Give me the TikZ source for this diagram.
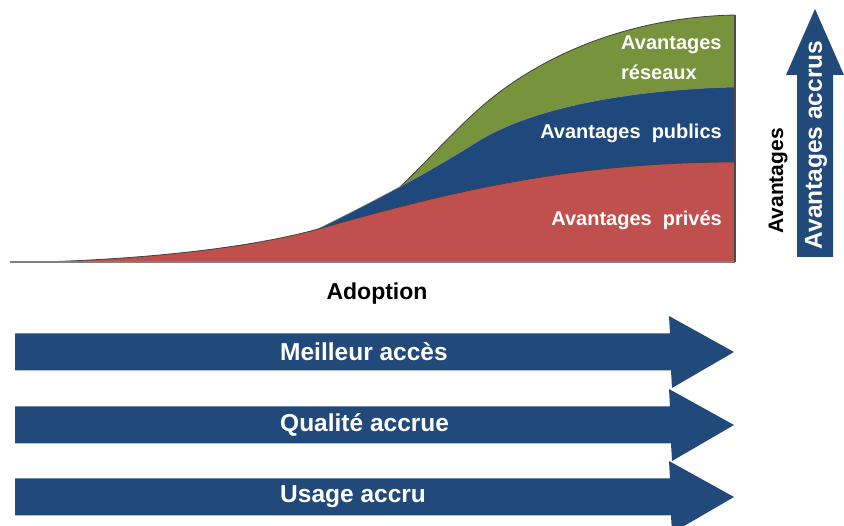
\documentclass[tikz,border=0pt]{standalone}
\usepackage{fontspec}
\setmainfont{Liberation Sans}
\definecolor{privred}{HTML}{C0504D}
\definecolor{pubblue}{HTML}{1F497D}
\definecolor{netgreen}{HTML}{77933C}
\definecolor{arrowblue}{HTML}{214A7B}
\begin{document}
\begin{tikzpicture}[x=1pt,y=-1pt,
  arealabel/.style={font=\bfseries\fontsize{20}{30}\selectfont, text=white, inner sep=0pt},
  axislabel/.style={font=\bfseries\fontsize{23}{27}\selectfont, text=black, inner sep=0pt},
  arrowlabel/.style={font=\bfseries\fontsize{24.5}{28}\selectfont, text=white, inner sep=0pt},
  edgeline/.style={draw=black!75, line width=0.8pt},
  bandarrow/.style={fill=arrowblue}]
\useasboundingbox (0,0) rectangle (844,526);

% stacked benefit areas
\fill[netgreen] (400,187) .. controls (430,158) and (455,130) .. (480,108)
  .. controls (540,55) and (630,17) .. (735,15) -- (735,262) -- (400,262) -- cycle;
\fill[pubblue] (318,229) .. controls (362,207) and (420,178) .. (480,140)
  .. controls (530,110) and (620,90) .. (735,87) -- (735,262) -- (318,262) -- cycle;
\fill[privred] (40,262) .. controls (150,259) and (255,247) .. (320,228.5)
  .. controls (445,193) and (570,162) .. (735,162) -- (735,262) -- cycle;

% outlines of the curves
\draw[edgeline] (400,187) .. controls (430,158) and (455,130) .. (480,108)
  .. controls (540,55) and (630,17) .. (735,15);
\draw[draw=black!45, line width=0.5pt] (318,229) .. controls (362,207) and (420,178) .. (480,140)
  .. controls (530,110) and (620,90) .. (735,87);
\draw[edgeline] (40,262) .. controls (150,259) and (255,247) .. (320,228.5)
  .. controls (445,193) and (570,162) .. (735,162);

% axes
\coordinate (axisL) at (10,262);
\coordinate (axisR) at (735,262);
\coordinate (axisT) at (735,15);
\draw[black!50, line width=1.8pt] (axisL) -- (axisR);
\draw[black!70, line width=1.2pt] (axisR) -- (axisT);

% area labels
\node[arealabel, anchor=west, align=left] (net) at (621,58) {Avantages\\réseaux};
\node[arealabel, anchor=east] (pub) at (722,133) {Avantages\ \ publics};
\node[arealabel, anchor=east] (priv) at (722,220) {Avantages\ \ privés};

% axis titles
\node[axislabel] (adopt) at (377,294) {Adoption};
\node[axislabel, rotate=90, font=\bfseries\fontsize{21}{25}\selectfont] (ben) at (778,181) {Avantages};

% vertical arrow
\fill[bandarrow] (797,257) -- (797,75) -- (786,75) -- (815,9) -- (844,75)
  -- (833,75) -- (833,257) -- cycle;
\node[arrowlabel, rotate=90] (acc) at (816,145) {Avantages accrus};

% horizontal arrows
\foreach \c/\name/\txt in {352/acces/Meilleur accès, 425/qualite/Qualité accrue, 497/usage/Usage accru}{
  \fill[bandarrow] (15,\c-18.5) -- (670,\c-18.5) -- (669,\c-36) -- (734,\c)
    -- (672,\c+36) -- (671,\c+18.5) -- (15,\c+18.5) -- cycle;
  \node[arrowlabel, anchor=west] (\name) at (280,\c) {\txt};
}
\end{tikzpicture}
\end{document}
